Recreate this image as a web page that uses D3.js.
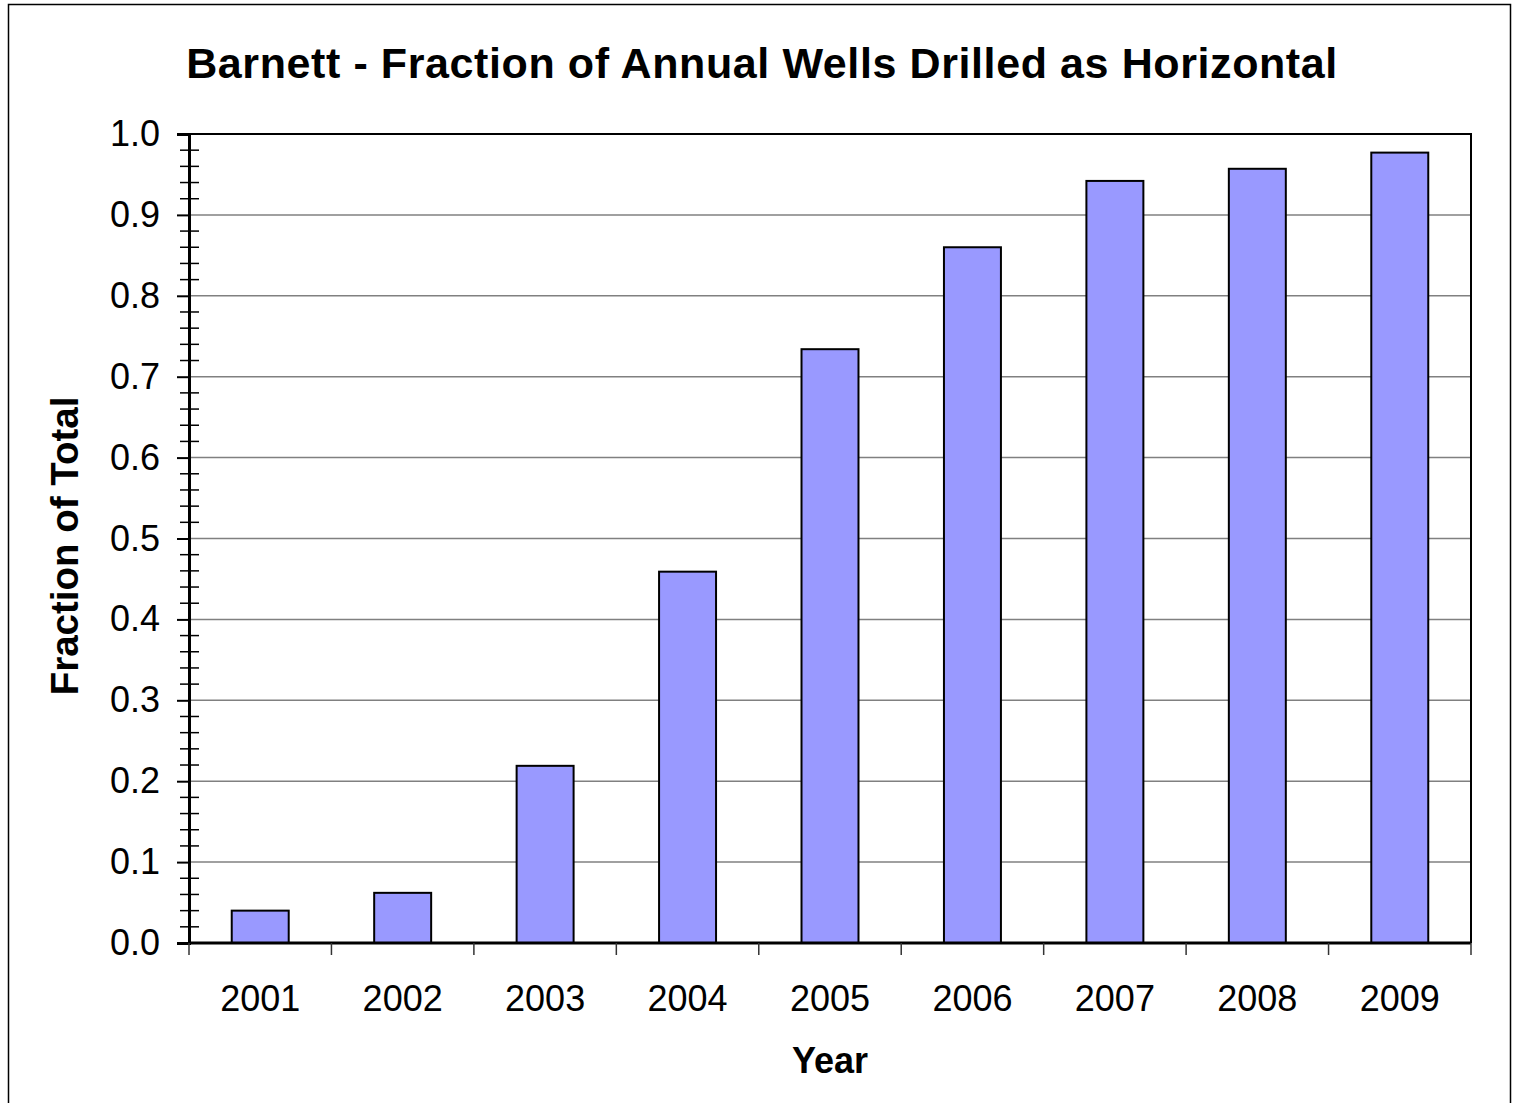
<!DOCTYPE html>
<html>
<head>
<meta charset="utf-8">
<script src="https://cdn.jsdelivr.net/npm/d3@7"></script>
<style>
  body { margin: 0; background: #fff; }
  svg { display: block; font-family: "Liberation Sans", Arial, sans-serif; }
</style>
</head>
<body>
<div id="chart"></div>
<script>
const years = ['2001', '2002', '2003', '2004', '2005', '2006', '2007', '2008', '2009'];
const fractions = [0.040, 0.062, 0.219, 0.459, 0.734, 0.860, 0.942, 0.957, 0.977];
const yTicks = [0, 0.1, 0.2, 0.3, 0.4, 0.5, 0.6, 0.7, 0.8, 0.9, 1.0];
const minorTicks = d3.range(0, 1.0001, 0.02);

const title = 'Barnett - Fraction of Annual Wells Drilled as Horizontal';
const xTitle = 'Year';
const yTitle = 'Fraction of Total';

const W = 1513, H = 1103;
const margin = { top: 134, right: 42, bottom: 160, left: 189 };
const width = W - margin.left - margin.right;
const height = H - margin.top - margin.bottom;

const svg = d3.select('#chart').append('svg')
  .attr('width', W)
  .attr('height', H);

// outer chart border
svg.append('rect')
  .attr('x', 8.5).attr('y', 4.5)
  .attr('width', 1502).attr('height', 1110)
  .attr('fill', 'none')
  .attr('stroke', '#000')
  .attr('stroke-width', 1.5);

svg.append('text')
  .attr('x', 762).attr('y', 78)
  .attr('text-anchor', 'middle')
  .attr('font-size', 43)
  .attr('font-weight', 'bold')
  .attr('letter-spacing', 0.6)
  .text(title);

const g = svg.append('g')
  .attr('transform', `translate(${margin.left},${margin.top})`);

const x = d3.scaleBand().domain(years).range([0, width]).paddingInner(0.6).paddingOuter(0.3);
const xb = d3.scaleBand().domain(years).range([0, width]);
const y = d3.scaleLinear().domain([0, 1]).range([height, 0]);

// gridlines
g.append('g')
  .selectAll('line')
  .data(yTicks.slice(1))
  .join('line')
  .attr('x1', 0).attr('x2', width)
  .attr('y1', d => y(d)).attr('y2', d => y(d))
  .attr('stroke', '#808080')
  .attr('stroke-width', 1.5);

// bars
g.append('g')
  .selectAll('rect')
  .data(years)
  .join('rect')
  .attr('x', d => x(d))
  .attr('width', x.bandwidth())
  .attr('y', (d, i) => y(fractions[i]))
  .attr('height', (d, i) => y(0) - y(fractions[i]))
  .attr('fill', '#9999ff')
  .attr('stroke', '#000')
  .attr('stroke-width', 2);

// plot frame top/right
g.append('path')
  .attr('d', `M0,0H${width}V${height}`)
  .attr('fill', 'none')
  .attr('stroke', '#000')
  .attr('stroke-width', 2);

// y axis
const yAxis = g.append('g')
  .call(d3.axisLeft(y).tickValues(yTicks).tickFormat(d3.format('.1f')).tickSize(12).tickPadding(17));
yAxis.select('.domain').attr('stroke-width', 3);
yAxis.selectAll('.tick line').attr('stroke-width', 2);
yAxis.selectAll('.tick text').attr('font-size', 36).attr('fill', '#000')
  .attr('font-family', '"Liberation Sans", Arial, sans-serif');

g.append('g')
  .selectAll('line')
  .data(minorTicks.filter(d => Math.round(d * 100) % 10 !== 0))
  .join('line')
  .attr('x1', -9).attr('x2', 10)
  .attr('y1', d => y(d)).attr('y2', d => y(d))
  .attr('stroke', '#000')
  .attr('stroke-width', 1.5);

// x axis
const xAxis = g.append('g')
  .attr('transform', `translate(0,${height})`);
xAxis.append('line')
  .attr('x1', 0).attr('x2', width)
  .attr('stroke', '#000').attr('stroke-width', 3);
xAxis.selectAll('.xt')
  .data(years.concat(['end']))
  .join('line')
  .attr('class', 'xt')
  .attr('x1', (d, i) => i < years.length ? xb(d) : width)
  .attr('x2', (d, i) => i < years.length ? xb(d) : width)
  .attr('y1', 0).attr('y2', 12)
  .attr('stroke', '#333').attr('stroke-width', 1.5);
xAxis.selectAll('.xl')
  .data(years)
  .join('text')
  .attr('class', 'xl')
  .attr('x', d => xb(d) + xb.bandwidth() / 2)
  .attr('y', 68)
  .attr('text-anchor', 'middle')
  .attr('font-size', 36)
  .text(d => d);

svg.append('text')
  .attr('x', 830).attr('y', 1073)
  .attr('text-anchor', 'middle')
  .attr('font-size', 36)
  .attr('font-weight', 'bold')
  .text(xTitle);

svg.append('text')
  .attr('transform', 'translate(78,546) rotate(-90)')
  .attr('text-anchor', 'middle')
  .attr('font-size', 38.5)
  .attr('font-weight', 'bold')
  .text(yTitle);
</script>
</body>
</html>
